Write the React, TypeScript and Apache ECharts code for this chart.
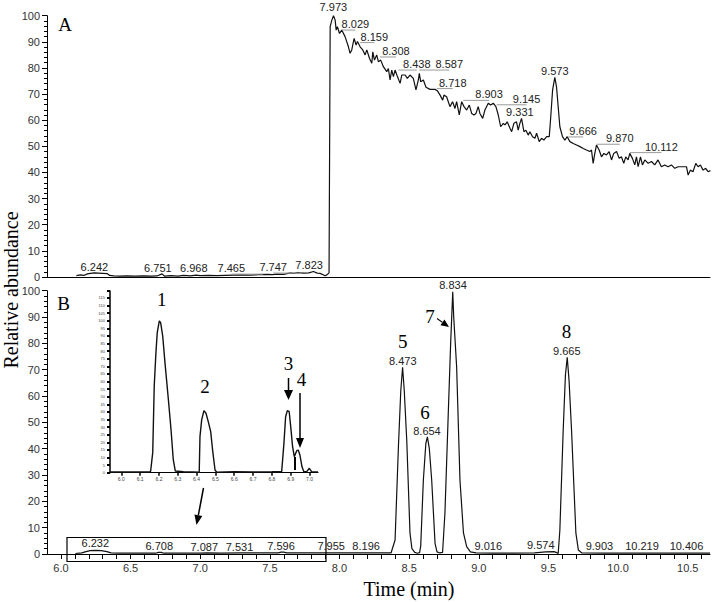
import React, { useEffect, useRef } from "react";
import * as echarts from "echarts";

// ---------- Panel A : chromatogram (time in min, relative abundance in %) ----------
const timeA = [
  6.111, 6.140, 6.164, 6.190, 6.212, 6.240, 6.270, 6.300, 6.331, 6.350, 6.380, 6.420, 6.475, 6.530,
  6.594, 6.650, 6.690, 6.726, 6.745, 6.790, 6.840, 6.881, 6.930, 6.970, 7.000, 7.060, 7.120, 7.180,
  7.240, 7.300, 7.359, 7.420, 7.479, 7.520, 7.550, 7.600, 7.622, 7.650, 7.670, 7.700, 7.742, 7.780,
  7.813, 7.840, 7.861, 7.897, 7.909, 7.925, 7.933, 7.945, 7.957, 7.969, 7.976, 7.985, 8.000, 8.016,
  8.040, 8.064, 8.076, 8.088, 8.105, 8.119, 8.129, 8.148, 8.167, 8.184, 8.196, 8.215, 8.232, 8.239,
  8.251, 8.267, 8.279, 8.296, 8.315, 8.339, 8.351, 8.363, 8.375, 8.387, 8.399, 8.416, 8.435, 8.447,
  8.471, 8.487, 8.506, 8.530, 8.549, 8.566, 8.573, 8.583, 8.602, 8.621, 8.650, 8.686, 8.702, 8.722,
  8.741, 8.750, 8.769, 8.793, 8.812, 8.829, 8.841, 8.860, 8.877, 8.894, 8.913, 8.932, 8.949, 8.965,
  8.980, 8.996, 9.008, 9.028, 9.044, 9.068, 9.085, 9.104, 9.123, 9.140, 9.157, 9.176, 9.188, 9.204,
  9.224, 9.236, 9.252, 9.271, 9.283, 9.295, 9.307, 9.324, 9.338, 9.355, 9.367, 9.386, 9.403, 9.415,
  9.434, 9.451, 9.467, 9.487, 9.506, 9.515, 9.530, 9.546, 9.558, 9.570, 9.582, 9.601, 9.618, 9.635,
  9.654, 9.678, 9.702, 9.726, 9.750, 9.773, 9.797, 9.809, 9.821, 9.833, 9.845, 9.864, 9.881, 9.898,
  9.917, 9.936, 9.953, 9.969, 9.989, 10.008, 10.024, 10.041, 10.055, 10.072, 10.084, 10.103, 10.120,
  10.132, 10.144, 10.161, 10.175, 10.192, 10.216, 10.240, 10.263, 10.287, 10.311, 10.335, 10.359,
  10.383, 10.407, 10.431, 10.467, 10.491, 10.503, 10.519, 10.538, 10.558, 10.574, 10.591, 10.610,
  10.629, 10.646, 10.663,
];
const abundA = [
  0.5, 0.8, 0.6, 1.2, 1.4, 1.6, 1.5, 1.4, 1.3, 0.6, 0.4, 0.3, 0.4, 0.3,
  0.4, 0.3, 0.4, 1.2, 0.3, 0.5, 0.3, 0.6, 0.4, 0.7, 0.5, 0.6, 0.5, 0.6,
  0.7, 0.8, 0.7, 0.9, 1.0, 0.9, 1.1, 1.0, 1.3, 1.6, 1.4, 1.7, 1.5, 1.6,
  2.1, 1.5, 1.4, 0.5, 0.8, 1.6, 95.8, 98.3, 100.0, 98.3, 94.5, 95.8, 93.2, 94.5,
  92.0, 88.1, 85.6, 86.9, 91.3, 88.8, 90.1, 88.1, 86.9, 85.0, 86.9, 83.7, 81.8, 86.2,
  83.0, 85.0, 82.4, 83.0, 80.5, 78.6, 79.8, 75.4, 79.2, 76.7, 79.2, 76.7, 74.1, 77.3,
  77.3, 76.0, 77.3, 76.0, 71.6, 75.4, 77.9, 74.7, 75.4, 72.6, 71.8, 71.8, 71.3, 69.6,
  67.7, 69.6, 69.0, 65.2, 67.1, 64.5, 67.1, 62.0, 67.1, 65.2, 63.9, 65.8, 62.6, 62.0,
  62.6, 65.2, 62.6, 60.7, 63.9, 66.5, 65.8, 66.5, 65.2, 62.0, 57.5, 58.8, 58.2, 59.4,
  56.9, 55.6, 58.8, 59.4, 56.2, 58.8, 60.7, 55.6, 56.2, 54.3, 55.6, 53.7, 53.1, 55.0,
  51.8, 53.1, 52.4, 53.7, 53.7, 60.1, 71.6, 76.4, 72.8, 65.2, 57.5, 53.7, 52.4, 53.7,
  51.8, 51.1, 50.5, 49.9, 49.2, 48.6, 48.0, 48.6, 43.5, 47.3, 50.5, 48.6, 46.0, 47.3,
  46.7, 48.0, 44.8, 47.3, 48.0, 45.4, 46.0, 43.5, 46.0, 44.8, 47.3, 45.4, 42.9,
  46.0, 42.2, 46.0, 42.9, 44.8, 43.5, 44.2, 42.9, 44.8, 42.2, 42.9, 42.2,
  42.9, 41.6, 42.2, 42.2, 42.2, 39.0, 40.9, 40.3, 43.5, 42.2, 42.9, 40.9,
  41.6, 40.3, 40.7,
];

// ---------- Panel B : chromatogram ----------
const timeB = [
  6.104, 6.150, 6.180, 6.210, 6.250, 6.290, 6.330, 6.360, 6.420, 6.500, 6.600, 6.680, 6.700, 6.720,
  6.740, 6.850, 7.000, 7.050, 7.150, 7.300, 7.450, 7.560, 7.580, 7.600, 7.620, 7.800, 7.950, 8.100,
  8.250, 8.370, 8.399, 8.423, 8.440, 8.453, 8.465, 8.483, 8.506, 8.520, 8.540, 8.560, 8.575, 8.583,
  8.602, 8.620, 8.631, 8.645, 8.662, 8.686, 8.700, 8.720, 8.740, 8.757, 8.781, 8.798, 8.808, 8.813,
  8.820, 8.841, 8.865, 8.890, 8.913, 8.940, 8.980, 9.100, 9.250, 9.400, 9.480, 9.540, 9.560, 9.570,
  9.582, 9.606, 9.622, 9.635, 9.648, 9.666, 9.697, 9.715, 9.740, 9.900, 10.100, 10.300, 10.500, 10.660,
];
const abundB = [
  0.2, 0.4, 0.9, 1.3, 1.4, 1.3, 0.9, 0.4, 0.3, 0.3, 0.3, 0.3, 0.6, 0.6,
  0.3, 0.3, 0.3, 0.4, 0.3, 0.4, 0.4, 0.4, 0.7, 0.7, 0.4, 0.4, 0.4, 0.4,
  0.4, 0.4, 5.3, 40.7, 62.0, 70.9, 62.0, 43.0, 8.0, 2.0, 0.6, 0.3, 0.5, 3.0,
  28.0, 42.0, 44.5, 40.0, 28.0, 4.0, 0.8, 0.4, 0.6, 15.6, 53.5, 80.0, 93.0, 99.6,
  90.0, 71.0, 28.0, 8.0, 2.8, 0.8, 0.4, 0.3, 0.3, 0.4, 0.8, 0.9, 0.5, 0.2,
  9.0, 47.0, 68.0, 74.7, 66.0, 47.0, 8.0, 1.5, 0.4, 0.3, 0.3, 0.3, 0.3, 0.3,
];

// ---------- Inset (enlarged 6.0-7.9 min region of B) ----------
const timeInset = [
  5.940, 6.050, 6.152, 6.156, 6.167, 6.175, 6.184, 6.191, 6.202, 6.209, 6.220, 6.232, 6.250, 6.264,
  6.276, 6.287, 6.330, 6.380, 6.414, 6.418, 6.427, 6.439, 6.450, 6.462, 6.475, 6.485, 6.498, 6.507,
  6.600, 6.700, 6.800, 6.852, 6.864, 6.873, 6.882, 6.892, 6.900, 6.910, 6.919, 6.932, 6.940, 6.949,
  6.960, 6.970, 6.985, 6.999, 7.011, 7.045,
];
const abundInset = [
  0.5, 0.5, 0.5, 1.1, 13.2, 57.0, 78.9, 92.1, 99.8, 98.7, 89.9, 72.4, 48.3, 28.6,
  8.8, 1.1, 0.6, 0.5, 0.3, 23.7, 34.7, 40.8, 39.1, 33.6, 27.0, 14.9, 1.8, 0.3,
  0.6, 0.5, 0.6, 0.7, 19.3, 36.8, 40.8, 40.1, 30.3, 17.1, 10.5, 14.5, 14.9, 11.6,
  3.9, 0.7, 0.7, 2.9, 0.7, 0.5,
];

// ---------- Retention-time annotations ----------
const labelTextA = ["7.973", "8.029", "8.159", "8.308", "8.438", "8.587", "8.718", "8.903", "9.145", "9.331", "9.573", "9.666", "9.870", "10.112", "6.242", "6.751", "6.968", "7.465", "7.747", "7.823"];
const labelTimeA = [7.956, 8.114, 8.250, 8.405, 8.555, 8.788, 8.813, 9.074, 9.343, 9.295, 9.546, 9.749, 10.012, 10.311, 6.240, 6.696, 6.954, 7.223, 7.524, 7.782];
const labelAbundA = [103.3, 96.8, 92.0, 86.5, 81.5, 81.5, 74.4, 69.9, 68.2, 63.3, 79.0, 55.9, 53.1, 49.9, 3.9, 3.4, 3.4, 3.4, 3.8, 4.6];
const leaderTimeA = [null, 8.017, 8.148, 8.291, 8.423, 8.573, 8.698, 8.889, 9.128, null, null, 9.642, 9.845, 10.084, null, null, null, 7.452, 7.731, null];

const labelTextB = ["6.232", "6.708", "7.087", "7.531", "7.596", "7.955", "8.196", "9.016", "9.574", "9.903", "10.219", "10.406", "8.473", "8.654", "8.834", "9.665"];
const labelTimeB = [6.247, 6.706, 7.029, 7.282, 7.580, 7.940, 8.191, 9.068, 9.445, 9.866, 10.172, 10.491, 8.454, 8.628, 8.815, 9.632];
const labelAbundB = [4.1, 3.0, 2.8, 2.8, 3.0, 3.0, 3.0, 3.0, 3.4, 3.0, 3.0, 3.0, 73.4, 46.7, 102.2, 77.0];

const peakNumB = ["5", "6", "7", "8"];
const peakNumTimeB = [8.454, 8.614, 8.650, 9.630];
const peakNumAbundB = [80.6, 53.8, 90.1, 84.4];

const peakNumInset = ["1", "2", "3", "4"];
const peakNumTimeInset = [6.2146, 6.4445, 6.888, 6.958];
const peakNumAbundInset = [114.1, 56.6, 71.5, 61.3];

// ---------- Ticks ----------
const xTickValues = [
  6.0, 6.1, 6.2, 6.3, 6.4, 6.5, 6.6, 6.7, 6.8, 6.9, 7.0, 7.1, 7.2, 7.3, 7.4, 7.5, 7.6, 7.7, 7.8, 7.9,
  8.0, 8.1, 8.2, 8.3, 8.4, 8.5, 8.6, 8.7, 8.8, 8.9, 9.0, 9.1, 9.2, 9.3, 9.4, 9.5, 9.6, 9.7, 9.8, 9.9,
  10.0, 10.1, 10.2, 10.3, 10.4, 10.5, 10.6,
];
const xLabelValues = [6.0, 6.5, 7.0, 7.5, 8.0, 8.5, 9.0, 9.5, 10.0, 10.5];
const insetXTicks = [6.0, 6.1, 6.2, 6.3, 6.4, 6.5, 6.6, 6.7, 6.8, 6.9, 7.0];

const SANS = '"Liberation Sans", Arial, sans-serif';
const SERIF = '"Liberation Serif", "Times New Roman", serif';

function zip(a: number[], b: number[]) {
  return a.map((t, i) => [t, b[i]]);
}

function textSeries(
  xi: number,
  texts: string[],
  times: number[],
  values: number[],
  leaders: (number | null)[] | null,
  font: { size: number; family: string; color: string }
) {
  return {
    type: "custom",
    xAxisIndex: xi,
    yAxisIndex: xi,
    silent: true,
    clip: false,
    z: 5,
    data: zip(times, values),
    renderItem: (params: any, api: any) => {
      const i = params.dataIndex;
      const p = api.coord([api.value(0), api.value(1)]);
      const children: any[] = [];
      const lt = leaders ? leaders[i] : null;
      if (lt !== null && lt !== undefined) {
        const q = api.coord([lt, api.value(1)]);
        children.push({
          type: "line",
          shape: { x1: q[0], y1: p[1] + 6, x2: p[0], y2: p[1] + 6 },
          style: { stroke: "#9a9a9a", lineWidth: 1 },
        });
      }
      children.push({
        type: "text",
        x: p[0],
        y: p[1],
        style: {
          text: texts[i],
          fill: font.color,
          fontSize: font.size,
          fontFamily: font.family,
          align: "center",
          verticalAlign: "middle",
        },
      });
      return { type: "group", children };
    },
  };
}

function arrow(x1: number, y1: number, x2: number, y2: number, headLen: number, headHalf: number, lw: number) {
  const dx = x2 - x1;
  const dy = y2 - y1;
  const L = Math.hypot(dx, dy);
  const ux = dx / L;
  const uy = dy / L;
  const bx = x2 - ux * headLen;
  const by = y2 - uy * headLen;
  const px = -uy;
  const py = ux;
  return [
    { type: "line", z: 100, shape: { x1, y1, x2: bx, y2: by }, style: { stroke: "#000", lineWidth: lw } },
    {
      type: "polygon",
      z: 100,
      shape: { points: [[x2, y2], [bx + px * headHalf, by + py * headHalf], [bx - px * headHalf, by - py * headHalf]] },
      style: { fill: "#000" },
    },
  ];
}

export default function App() {
  const ref = useRef<HTMLDivElement>(null);
  useEffect(() => {
    if (!ref.current) return;
    const chart = echarts.init(ref.current, undefined, { renderer: "svg" });
    const axisLabelStyle = { color: "#333", fontSize: 11, fontFamily: SANS };
    const yAxisCommon = {
      type: "value",
      min: 0,
      max: 100,
      interval: 10,
      axisLine: { show: true, lineStyle: { color: "#000", width: 1 } },
      axisTick: { show: true, length: 5, lineStyle: { color: "#000" } },
      minorTick: { show: true, splitNumber: 5, length: 3, lineStyle: { color: "#000" } },
      axisLabel: { ...axisLabelStyle, margin: 7 },
      splitLine: { show: false },
    };
    const option: any = {
      animation: false,
      backgroundColor: "#fff",
      grid: [
        { left: 47, top: 15.7, width: 663, height: 261.3, outerBoundsMode: "none", containLabel: false },
        { left: 47, top: 290.7, width: 663, height: 263.3, outerBoundsMode: "none", containLabel: false },
        { left: 110, top: 291, width: 208, height: 181.7, outerBoundsMode: "none", containLabel: false },
      ],
      xAxis: [
        {
          type: "value",
          gridIndex: 0,
          min: 5.9,
          max: 10.66,
          axisLine: { show: true, onZero: false, lineStyle: { color: "#000", width: 1 } },
          axisTick: { show: false },
          axisLabel: { show: false },
          splitLine: { show: false },
        },
        {
          type: "value",
          gridIndex: 1,
          min: 5.9,
          max: 10.66,
          axisLine: { show: true, onZero: false, lineStyle: { color: "#000", width: 1 } },
          axisTick: { show: true, length: 5, customValues: xTickValues, lineStyle: { color: "#000" } },
          axisLabel: {
            ...axisLabelStyle,
            margin: 8,
            customValues: xLabelValues,
            formatter: (v: number) => v.toFixed(1),
          },
          splitLine: { show: false },
        },
        {
          type: "value",
          gridIndex: 2,
          min: 5.94,
          max: 7.045,
          axisLine: { show: true, onZero: false, lineStyle: { color: "#000", width: 1.2 } },
          axisTick: { show: true, length: 3, customValues: insetXTicks, lineStyle: { color: "#000", width: 1.5 } },
          axisLabel: {
            show: true,
            customValues: insetXTicks,
            formatter: (v: number) => v.toFixed(1),
            fontSize: 5,
            color: "#444",
            fontFamily: SANS,
            margin: 4,
          },
          splitLine: { show: false },
        },
      ],
      yAxis: [
        { ...yAxisCommon, gridIndex: 0 },
        { ...yAxisCommon, gridIndex: 1 },
        {
          type: "value",
          gridIndex: 2,
          min: 0,
          max: 119.5,
          interval: 5,
          axisLine: { show: true, onZero: false, lineStyle: { color: "#000", width: 1.5 } },
          axisTick: { show: true, length: 3, lineStyle: { color: "#000", width: 2 } },
          axisLabel: {
            show: true,
            fontSize: 4,
            color: "#444",
            fontFamily: SANS,
            margin: 5,
            formatter: (v: number) => (Math.abs(v / 5 - Math.round(v / 5)) < 1e-6 ? String(v) : ""),
          },
          splitLine: { show: false },
        },
      ],
      series: [
        {
          type: "line",
          xAxisIndex: 0,
          yAxisIndex: 0,
          data: zip(timeA, abundA),
          symbol: "none",
          lineStyle: { color: "#111", width: 1.2 },
        },
        {
          type: "line",
          xAxisIndex: 1,
          yAxisIndex: 1,
          data: zip(timeB, abundB),
          symbol: "none",
          lineStyle: { color: "#111", width: 1.2 },
        },
        {
          type: "line",
          xAxisIndex: 2,
          yAxisIndex: 2,
          data: zip(timeInset, abundInset),
          symbol: "none",
          lineStyle: { color: "#111", width: 1.4 },
        },
        textSeries(0, labelTextA, labelTimeA, labelAbundA, leaderTimeA, { size: 11, family: SANS, color: "#222" }),
        textSeries(1, labelTextB, labelTimeB, labelAbundB, null, { size: 11, family: SANS, color: "#222" }),
        textSeries(1, peakNumB, peakNumTimeB, peakNumAbundB, null, { size: 19, family: SERIF, color: "#000" }),
        textSeries(2, peakNumInset, peakNumTimeInset, peakNumAbundInset, null, { size: 19, family: SERIF, color: "#000" }),
      ],
      graphic: [
        { type: "text", z: 100, x: 65, y: 24, style: { text: "A", fontSize: 19, fontFamily: SERIF, fill: "#000", align: "center", verticalAlign: "middle" } },
        { type: "text", z: 100, x: 63.5, y: 303, style: { text: "B", fontSize: 19, fontFamily: SERIF, fill: "#000", align: "center", verticalAlign: "middle" } },
        {
          type: "text",
          z: 100,
          x: 11,
          y: 290,
          rotation: Math.PI / 2,
          style: { text: "Relative abundance", fontSize: 20, fontFamily: SERIF, fill: "#000", align: "center", verticalAlign: "middle" },
        },
        { type: "text", z: 100, x: 409, y: 589, style: { text: "Time (min)", fontSize: 20, fontFamily: SERIF, fill: "#000", align: "center", verticalAlign: "middle" } },
        { type: "rect", z: 100, shape: { x: 67, y: 537.5, width: 259, height: 24 }, style: { fill: "none", stroke: "#000", lineWidth: 1.2 } },
        { type: "line", z: 100, shape: { x1: 295, y1: 457, x2: 295, y2: 470 }, style: { stroke: "#000", lineWidth: 2 } },
        ...arrow(203.5, 488, 196.5, 525, 10, 4, 1.5),
        ...arrow(288.5, 378, 288.5, 400, 10, 4.5, 1.5),
        ...arrow(300, 393, 300, 448, 10, 4, 1.5),
        ...arrow(437, 318.5, 449, 327, 8, 3.5, 1.2),
      ],
    };
    chart.setOption(option);
    return () => chart.dispose();
  }, []);
  return (
    <div
      ref={ref}
      style={{ position: "fixed", left: 0, top: 0, width: 715, height: 602, background: "#fff" }}
    />
  );
}
